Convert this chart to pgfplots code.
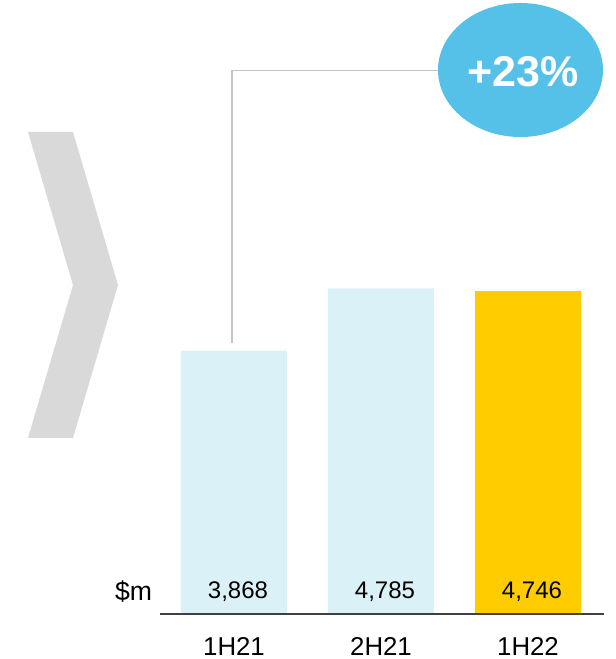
\documentclass[border=0pt]{standalone}
\usepackage{pgfplots}
\pgfplotsset{compat=1.18}
\usepackage{fontspec}
\setmainfont{Liberation Sans}
\definecolor{lightbar}{HTML}{DBF1F8}
\definecolor{goldbar}{HTML}{FFCC00}
\definecolor{bubble}{HTML}{56C1E8}
\definecolor{chev}{HTML}{D9D9D9}
\definecolor{conn}{HTML}{C4C4C4}
\begin{document}
\begin{tikzpicture}
\begin{axis}[
  x=73.5pt, y=0.034037pt,
  xmin=-1.5918, xmax=2.5986, ymin=0, ymax=9019.7,
  clip=false,
  hide y axis,
  axis line style={draw=none},
  tick style={draw=none},
  major tick length=0pt,
  xtick={0,1,2}, xticklabels={1H21,2H21,1H22},
  xticklabel style={font=\fontsize{12.9}{14}\selectfont, anchor=center, yshift=-16pt},
  /pgf/number format/assume math mode=true,
]
\addplot[ybar, bar width=53pt, bar shift=0pt, fill=lightbar, draw=none] coordinates {(0,3868) (1,4785)};
\addplot[ybar, bar width=53pt, bar shift=0pt, fill=goldbar, draw=none] coordinates {(2,4746)};
\addplot[only marks, mark=none, point meta=explicit, nodes near coords,
  nodes near coords style={anchor=base, font=\fontsize{12}{14}\selectfont, xshift=2pt, inner sep=0pt}]
  coordinates {(0,235)[3868] (1,235)[4785] (2,235)[4746]};
\coordinate (TL) at (axis cs:-1.5918,9019.7);
\end{axis}
\begin{scope}[shift={(TL)}, x=0.5pt, y=-0.5pt]
\fill[chev] (28,132)--(73,132)--(118,285)--(73,438)--(28,438)--(73,285)--cycle;
\draw[conn, line width=0.75pt] (232,343)--(232,70.7)--(450,70.7);
\fill[bubble] (520.5,70) ellipse [x radius=82.5, y radius=67];
\node[text=white, font=\fontsize{21.5}{24}\selectfont\bfseries] at (523,72) {+23\%};
\draw[black!75, line width=0.75pt] (160,614)--(604,614);
\node[font=\fontsize{13.3}{15}\selectfont, anchor=base, inner sep=0pt] at (133.5,601) {\$m};
\pgfresetboundingbox
\path[use as bounding box] (0,0) rectangle (616,659);
\end{scope}
\end{tikzpicture}
\end{document}
